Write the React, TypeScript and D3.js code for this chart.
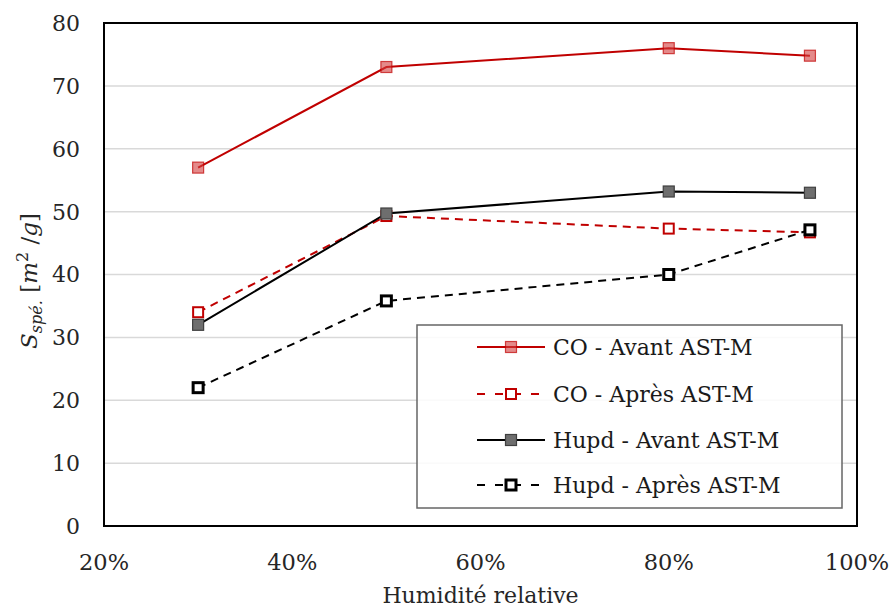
import React from "react";
import * as d3 from "d3";

const humidity = [30, 50, 80, 95];
const coAvant = [57, 73, 76, 74.8];
const coApres = [34, 49.3, 47.3, 46.7];
const hupdAvant = [32, 49.7, 53.2, 53];
const hupdApres = [22, 35.8, 40, 47.1];
const xTicks = [20, 40, 60, 80, 100];
const yTicks = [0, 10, 20, 30, 40, 50, 60, 70, 80];

type Series = {
  name: string;
  values: number[];
  stroke: string;
  dash: string | null;
  mFill: string;
  mStroke: string;
  mStrokeW: number;
  mSize: number;
};

const series: Series[] = [
  { name: "CO - Avant AST-M", values: coAvant, stroke: "#C00000", dash: null, mFill: "rgba(210,60,60,0.6)", mStroke: "rgba(192,0,0,0.7)", mStrokeW: 1.2, mSize: 11 },
  { name: "CO - Après AST-M", values: coApres, stroke: "#C00000", dash: "8,6", mFill: "#ffffff", mStroke: "#C00000", mStrokeW: 2, mSize: 10 },
  { name: "Hupd - Avant AST-M", values: hupdAvant, stroke: "#000000", dash: null, mFill: "#6e6e6e", mStroke: "#404040", mStrokeW: 1.2, mSize: 11 },
  { name: "Hupd - Après AST-M", values: hupdApres, stroke: "#000000", dash: "8,6", mFill: "#ffffff", mStroke: "#000000", mStrokeW: 3, mSize: 10 },
];

const FONT = "'DejaVu Serif', serif";

export default function App() {
  const W = 891, H = 610;
  const left = 104, right = 857, top = 23, bottom = 526;
  const x = d3.scaleLinear().domain([20, 100]).range([left, right]);
  const y = d3.scaleLinear().domain([0, 80]).range([bottom, top]);
  const line = d3.line<number>().x((_, i) => x(humidity[i])).y((v) => y(v));

  const legX = 417, legY = 325, legW = 425, legH = 183;
  const rowY = [347, 394, 440, 485];

  const marker = (s: Series, cx: number, cy: number, key: string | number) => (
    <rect key={key} x={cx - s.mSize / 2} y={cy - s.mSize / 2} width={s.mSize} height={s.mSize}
      fill={s.mFill} stroke={s.mStroke} strokeWidth={s.mStrokeW} />
  );

  return (
    <svg width={W} height={H} style={{ position: "absolute", left: 0, top: 0, background: "#fff" }}>
      {yTicks.filter((t) => t > 0 && t < 80).map((t) => (
        <line key={t} x1={left} x2={right} y1={y(t)} y2={y(t)} stroke="#d9d9d9" strokeWidth={1.5} />
      ))}
      <rect x={left} y={top} width={right - left} height={bottom - top} fill="none" stroke="#000" strokeWidth={2} />
      {yTicks.map((t) => (
        <text key={t} x={80} y={y(t)} dy="0.36em" textAnchor="end" fontFamily={FONT} fontSize={22} fill="#262626">{t}</text>
      ))}
      {xTicks.map((t) => (
        <text key={t} x={x(t)} y={570} textAnchor="middle" fontFamily={FONT} fontSize={22.5} fill="#262626">{t}%</text>
      ))}
      <text x={(left + right) / 2} y={603} textAnchor="middle" fontFamily={FONT} fontSize={22} fill="#262626">Humidité relative</text>
      <text transform={`translate(37,281) rotate(-90)`} textAnchor="middle" fontFamily={FONT} fontSize={23} fill="#262626">
        <tspan fontStyle="italic">S</tspan>
        <tspan fontStyle="italic" fontSize={16} dy={5}>spé.</tspan>
        <tspan dy={-5}> [</tspan>
        <tspan fontStyle="italic">m</tspan>
        <tspan fontSize={16} dy={-9}>2</tspan>
        <tspan dy={9}> /</tspan>
        <tspan fontStyle="italic">g</tspan>
        <tspan>]</tspan>
      </text>
      {series.map((s, si) => (
        <g key={si}>
          <path d={line(s.values) || ""} fill="none" stroke={s.stroke} strokeWidth={2} strokeDasharray={s.dash || undefined} />
          {s.values.map((v, i) => marker(s, x(humidity[i]), y(v), i))}
        </g>
      ))}
      <rect x={legX} y={legY} width={legW} height={legH} fill="rgba(255,255,255,0.85)" stroke="#666" strokeWidth={1.5} />
      {series.map((s, i) => (
        <g key={s.name}>
          <line x1={477} x2={545} y1={rowY[i]} y2={rowY[i]} stroke={s.stroke} strokeWidth={2} strokeDasharray={s.dash ? "8,10" : undefined} />
          {marker(s, 511, rowY[i], "m")}
          <text x={553} y={rowY[i]} dy="0.36em" fontFamily={FONT} fontSize={22} fill="#1a1a1a">{s.name}</text>
        </g>
      ))}
    </svg>
  );
}
